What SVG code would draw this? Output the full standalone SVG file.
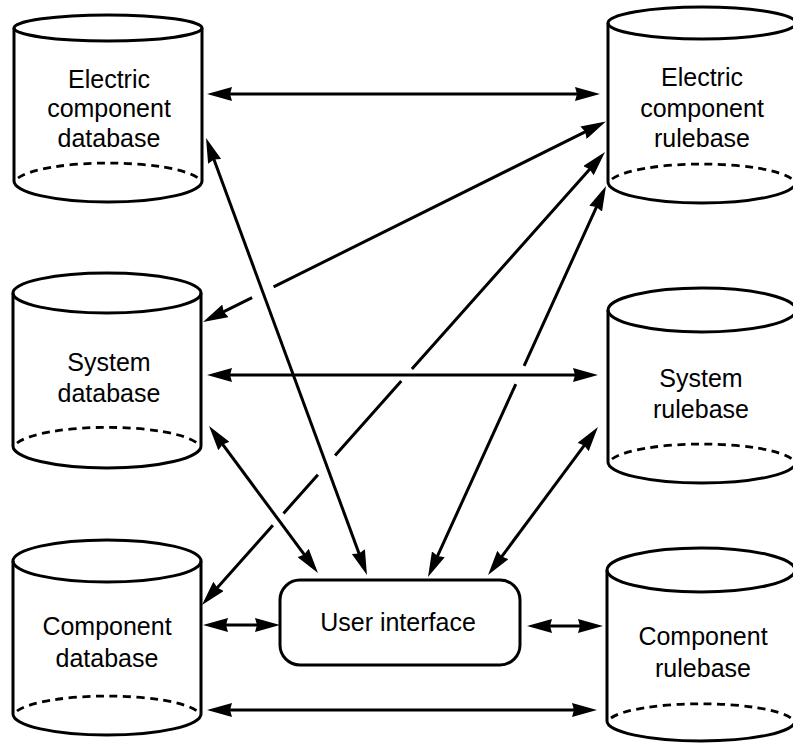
<svg xmlns="http://www.w3.org/2000/svg" width="793" height="746" viewBox="0 0 793 746">
  <style>
    .outline { fill: none; stroke: #000; stroke-width: 3; }
    .body { fill: #fff; stroke: none; }
    .back { fill: none; stroke: #000; stroke-width: 2.8; stroke-dasharray: 8 5.5; }
    .label { font-family: "Liberation Sans", Arial, Helvetica, sans-serif; font-size: 25px; fill: #000; text-anchor: middle; }
    .link { fill: none; stroke: #000; stroke-width: 3; stroke-linecap: butt; marker-start: url(#ah); marker-end: url(#ah); }
  </style>
  <defs>
    <marker id="ah" viewBox="0 0 25 14" refX="17" refY="7" markerWidth="25" markerHeight="14" markerUnits="userSpaceOnUse" orient="auto-start-reverse">
      <path d="M0,0 L25,7 L0,14 L2,7 z" fill="#000"/>
    </marker>
  </defs>
  <rect width="793" height="746" fill="#fff"/>

  <!-- Electric component database -->
  <g id="electric-component-database">
    <path class="body" d="M14,28 L14,181 A94,21 0 0 0 202,181 L202,28 z"/>
    <ellipse class="outline" cx="108" cy="28" rx="94" ry="13"/>
    <path class="outline" d="M14,28 L14,181 M202,28 L202,181 M14,181 A94,21 0 0 0 202,181"/>
    <path class="back" d="M18,178 A94,21 0 0 1 198,178"/>
    <text class="label" x="109" y="88">Electric</text>
    <text class="label" x="109" y="117">component</text>
    <text class="label" x="109" y="147">database</text>
  </g>

  <!-- Electric component rulebase -->
  <g id="electric-component-rulebase">
    <path class="body" d="M608,23 L608,182 A94,21 0 0 0 796,182 L796,23 z"/>
    <ellipse class="outline" cx="702" cy="23" rx="94" ry="16"/>
    <path class="outline" d="M608,23 L608,182 M796,23 L796,182 M608,182 A94,21 0 0 0 796,182"/>
    <path class="back" d="M612,179 A94,21 0 0 1 792,179"/>
    <text class="label" x="702" y="86">Electric</text>
    <text class="label" x="702" y="117">component</text>
    <text class="label" x="702" y="147">rulebase</text>
  </g>

  <!-- System database -->
  <g id="system-database">
    <path class="body" d="M13,293 L13,446 A94,22 0 0 0 201,446 L201,293 z"/>
    <ellipse class="outline" cx="107" cy="293" rx="94" ry="20"/>
    <path class="outline" d="M13,293 L13,446 M201,293 L201,446 M13,446 A94,22 0 0 0 201,446"/>
    <path class="back" d="M17,443 A94,22 0 0 1 197,443"/>
    <text class="label" x="109" y="371">System</text>
    <text class="label" x="109" y="402">database</text>
  </g>

  <!-- System rulebase -->
  <g id="system-rulebase">
    <path class="body" d="M608,310 L608,462 A94,21 0 0 0 796,462 L796,310 z"/>
    <ellipse class="outline" cx="702" cy="310" rx="94" ry="22"/>
    <path class="outline" d="M608,310 L608,462 M796,310 L796,462 M608,462 A94,21 0 0 0 796,462"/>
    <path class="back" d="M612,459 A94,21 0 0 1 792,459"/>
    <text class="label" x="701" y="387">System</text>
    <text class="label" x="701" y="418">rulebase</text>
  </g>

  <!-- Component database -->
  <g id="component-database">
    <path class="body" d="M13,561 L13,714 A94,21 0 0 0 201,714 L201,561 z"/>
    <ellipse class="outline" cx="107" cy="561" rx="94" ry="21"/>
    <path class="outline" d="M13,561 L13,714 M201,561 L201,714 M13,714 A94,21 0 0 0 201,714"/>
    <path class="back" d="M17,711 A94,21 0 0 1 197,711"/>
    <text class="label" x="107" y="635">Component</text>
    <text class="label" x="107" y="667">database</text>
  </g>

  <!-- Component rulebase -->
  <g id="component-rulebase">
    <path class="body" d="M607,570 L607,721 A94,20 0 0 0 795,721 L795,570 z"/>
    <ellipse class="outline" cx="701" cy="570" rx="94" ry="22"/>
    <path class="outline" d="M607,570 L607,721 M795,570 L795,721 M607,721 A94,20 0 0 0 795,721"/>
    <path class="back" d="M611,718 A94,20 0 0 1 791,718"/>
    <text class="label" x="703" y="645">Component</text>
    <text class="label" x="703" y="677">rulebase</text>
  </g>

  <!-- User interface -->
  <g id="user-interface">
    <rect x="280" y="580" width="240" height="85" rx="20" ry="20" fill="#fff" stroke="#000" stroke-width="3"/>
    <text class="label" x="398" y="631" font-size="26">User interface</text>
  </g>

  <!-- Connectors: two-way links; breaks leave room where another line passes over -->
  <g id="connectors">
    <path class="link" d="M215,94 L592,94"/>
    <path class="link" d="M208.8,145.5 L364.2,567.5"/>
    <path class="link" d="M598.7,125.1 L273.6,286.9 M252.1,297.6 L210.2,318.4"/>
    <path class="link" d="M215,375 L590,375"/>
    <path class="link" d="M213.8,432.4 L313.2,566.6"/>
    <path class="link" d="M599.7,158 L411.9,369 M401.3,381 L335.1,455.4 M317.9,474.8 L283.5,513.4 M272.9,525.3 L207.3,599"/>
    <path class="link" d="M602.7,193.3 L524.1,365.9 M515.8,384.1 L431.3,569.7"/>
    <path class="link" d="M593.2,433.4 L492.8,568.6"/>
    <path class="link" d="M211,625 L272,625"/>
    <path class="link" d="M535,626 L595,626"/>
    <path class="link" d="M215,710 L589,710"/>
  </g>
</svg>
